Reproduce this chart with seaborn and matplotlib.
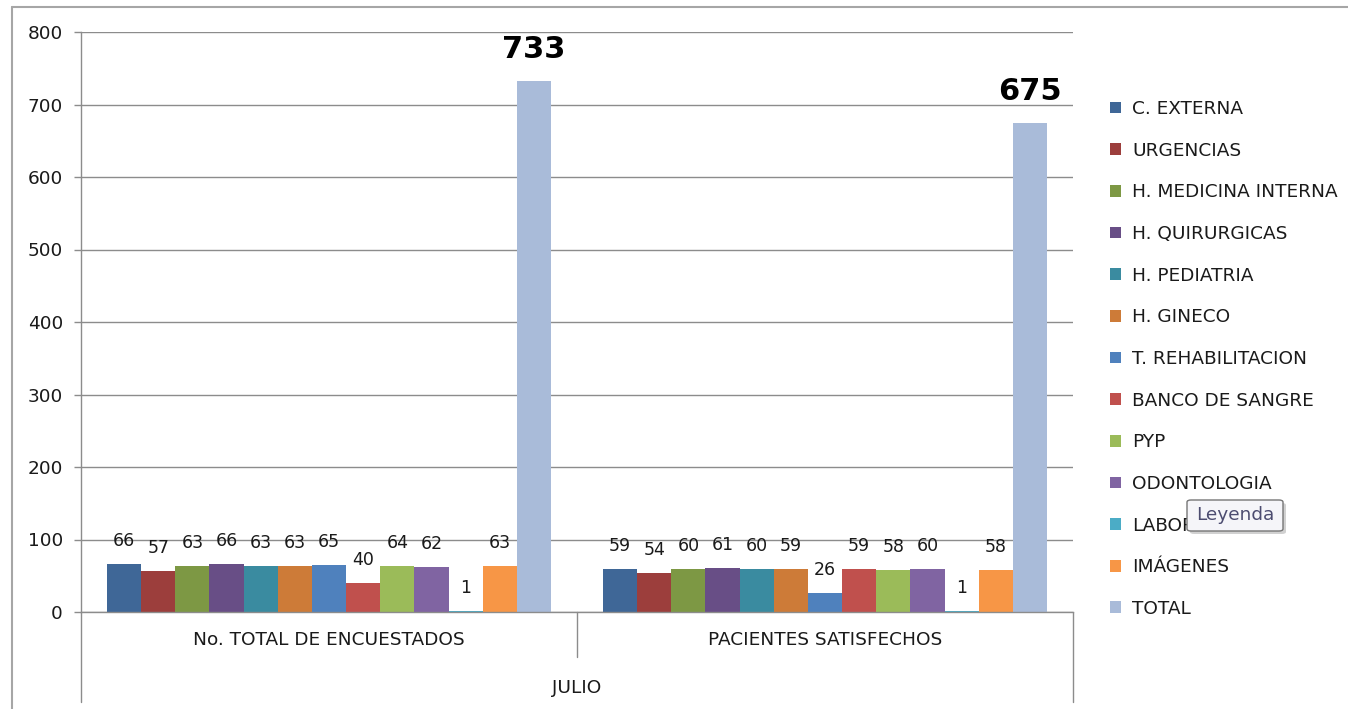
import matplotlib
matplotlib.use("Agg")
import matplotlib.pyplot as plt
from matplotlib.patches import FancyBboxPatch
from matplotlib.lines import Line2D
import matplotlib.transforms as mtransforms
import pandas as pd
import seaborn as sns

# ---- data -------------------------------------------------------------
servicios = ["C. EXTERNA", "URGENCIAS", "H. MEDICINA INTERNA", "H. QUIRURGICAS",
             "H. PEDIATRIA", "H. GINECO", "T. REHABILITACION", "BANCO DE SANGRE",
             "PYP", "ODONTOLOGIA", "LABORATORIO", "IMÁGENES", "TOTAL"]
grupos = ["No. TOTAL DE ENCUESTADOS", "PACIENTES SATISFECHOS"]
encuestados = [66, 57, 63, 66, 63, 63, 65, 40, 64, 62, 1, 63, 733]
satisfechos = [59, 54, 60, 61, 60, 59, 26, 59, 58, 60, 1, 58, 675]
mes = "JULIO"
y_ticks = [0, 100, 200, 300, 400, 500, 600, 700, 800]

colores = ["#3F6797", "#9C3E3C", "#7D9844", "#684E86", "#3A8BA0", "#CD7B38",
           "#4F81BD", "#C0504D", "#9BBB59", "#8064A2", "#4BACC6", "#F79646",
           "#A9BBD9"]

df = pd.DataFrame({
    "grupo": [grupos[0]] * len(servicios) + [grupos[1]] * len(servicios),
    "servicio": servicios * 2,
    "valor": encuestados + satisfechos,
})

# ---- style ------------------------------------------------------------
sns.set_theme(style="white")
plt.rcParams["font.family"] = ["DejaVu Sans"]
TXT = "#1A1A1A"
LINE = "#8C8C8C"
FS = 13.3

W, H = 1348, 709
fig = plt.figure(figsize=(W / 100, H / 100), dpi=100)
ax = fig.add_axes([81 / W, 1 - 612 / H, (1073 - 81) / W, 580 / H])

sns.barplot(data=df, x="grupo", y="valor", hue="servicio",
            order=grupos, hue_order=servicios, palette=colores,
            width=0.895, gap=0, linewidth=0, saturation=1,
            errorbar=None, ax=ax)

# value labels above each bar
for i, cont in enumerate(ax.containers):
    if servicios[i] == "TOTAL":
        ax.bar_label(cont, fmt="%d", padding=12, fontsize=22,
                     fontweight="bold", color="black")
    else:
        ax.bar_label(cont, fmt="%d", padding=10, fontsize=12.5, color=TXT)

ax.set_ylim(0, 800)
ax.set_xlim(-0.5, 1.5)
ax.set_yticks(y_ticks)
ax.set_xlabel("")
ax.set_ylabel("")
ax.set_axisbelow(True)
ax.yaxis.grid(True, color=LINE, linewidth=1)
ax.xaxis.grid(False)
for s in ["top", "right"]:
    ax.spines[s].set_visible(False)
for s in ["left", "bottom"]:
    ax.spines[s].set_color(LINE)
    ax.spines[s].set_linewidth(1)

ax.tick_params(axis="y", length=5, width=1, color=LINE, pad=8,
               labelsize=FS, labelcolor=TXT, left=True)
ax.tick_params(axis="x", length=0, pad=14, labelsize=FS, labelcolor=TXT)

# multi-level category axis: separators and month label
trans = mtransforms.blended_transform_factory(ax.transData, ax.transAxes)
for xv, ylow in [(-0.5, -0.155), (0.5, -0.078), (1.5, -0.155)]:
    ax.add_line(Line2D([xv, xv], [0, ylow], transform=trans, color=LINE,
                       linewidth=1, clip_on=False))
ax.text(0.5, -0.131, mes, transform=ax.transAxes, ha="center", va="center",
        fontsize=FS, color=TXT)

# legend
handles, labels = ax.get_legend_handles_labels()
ax.get_legend().remove()
fig.legend(handles, labels, loc="center left",
           bbox_to_anchor=(1110 / W, 1 - 359 / H), frameon=False,
           fontsize=FS, handlelength=0.6, handleheight=0.6,
           handletextpad=0.6, labelspacing=1.28, borderpad=0,
           borderaxespad=0, labelcolor=TXT)

# chart frame
fig.add_artist(Line2D([12 / W, 12 / W], [0, 1 - 7 / H], transform=fig.transFigure,
                      color="#A6A6A6", linewidth=1.5))
fig.add_artist(Line2D([12 / W, 1], [1 - 7 / H, 1 - 7 / H], transform=fig.transFigure,
                      color="#A6A6A6", linewidth=1.5))

# hover tooltip over the legend
bx0, bx1, by0, by1 = 1187, 1283, 500, 531
shadow = FancyBboxPatch(((bx0 + 3) / W, 1 - (by1 + 3) / H), (bx1 - bx0) / W,
                        (by1 - by0) / H, boxstyle="round,pad=0,rounding_size=0.003",
                        transform=fig.transFigure, facecolor="#9A9A9A",
                        edgecolor="none", alpha=0.45, zorder=20)
box = FancyBboxPatch((bx0 / W, 1 - by1 / H), (bx1 - bx0) / W, (by1 - by0) / H,
                     boxstyle="round,pad=0,rounding_size=0.003",
                     transform=fig.transFigure, facecolor="#F5F5F9",
                     edgecolor="#767676", linewidth=1, zorder=21)
fig.add_artist(shadow)
fig.add_artist(box)
fig.text((bx0 + bx1) / 2 / W, 1 - (by0 + by1) / 2 / H, "Leyenda",
         ha="center", va="center", fontsize=FS, color="#4C4C70", zorder=22)

fig.savefig("out.png", dpi=100, facecolor="white")
